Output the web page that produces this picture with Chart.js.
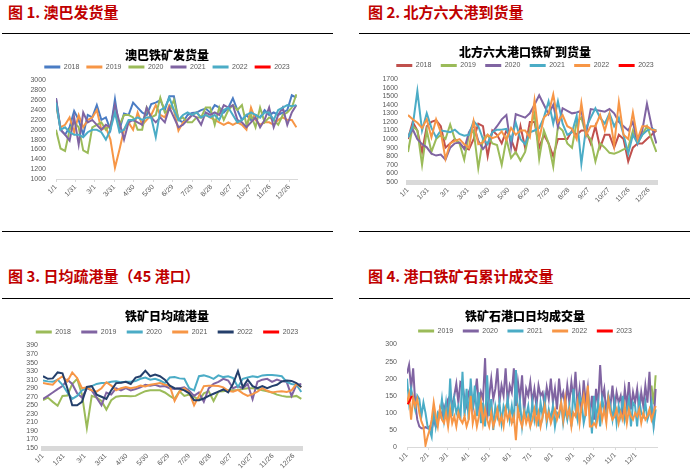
<!DOCTYPE html>
<html>
<head>
<meta charset="utf-8">
<script src="https://cdn.jsdelivr.net/npm/chart.js@4.4.1/dist/chart.umd.min.js"></script>
<style>
  html, body { margin: 0; padding: 0; background: #fff; }
  body { width: 691px; height: 472px; position: relative; overflow: hidden; font-family: "Noto Sans CJK SC", sans-serif; }
  .heading { position: absolute; font-size: 15px; font-weight: bold; color: #c00000; line-height: 18px; white-space: nowrap; }
  .rule { position: absolute; height: 0; border-top: 1px solid #000; }
  .box { position: absolute; }
</style>
</head>
<body>
<div class="heading" style="left:8px; top:3px">图 1. 澳巴发货量</div>
<div class="heading" style="left:368px; top:3px">图 2. 北方六大港到货量</div>
<div class="heading" style="left:8px; top:267px">图 3. 日均疏港量（45 港口）</div>
<div class="heading" style="left:368px; top:267px">图 4. 港口铁矿石累计成交量</div>

<div class="rule" style="left:2px; top:33px; width:331px"></div>
<div class="rule" style="left:359px; top:33px; width:331px"></div>
<div class="rule" style="left:2px; top:231px; width:331px"></div>
<div class="rule" style="left:359px; top:231px; width:331px"></div>
<div class="rule" style="left:2px; top:298px; width:331px"></div>
<div class="rule" style="left:359px; top:298px; width:331px"></div>

<div class="box" style="left:0; top:40px; width:334px; height:172px"><canvas id="ausChart"></canvas></div>
<div class="box" style="left:370px; top:40px; width:310px; height:172px"><canvas id="northChart"></canvas></div>
<div class="box" style="left:0; top:305px; width:334px; height:167px"><canvas id="dispatchChart"></canvas></div>
<div class="box" style="left:370px; top:305px; width:310px; height:167px"><canvas id="dealChart"></canvas></div>

<script>
// tick labels
const weekTickLabels = ['1/1', '1/31', '3/1', '3/31', '4/30', '5/30', '6/29', '7/29', '8/28', '9/27', '10/27', '11/26', '12/26'];
const monthTickLabels = ['1/1', '2/1', '3/1', '4/1', '5/1', '6/1', '7/1', '8/1', '9/1', '10/1', '11/1', '12/1'];
const monthStartDays = [0, 31, 59, 90, 120, 151, 181, 212, 243, 273, 304, 334];

// 澳巴铁矿发货量 (weekly)
const aus2018 = [2640,2000,1900,2050,2380,2200,1900,2300,2250,2500,2200,2250,2000,2620,2000,2330,2300,2550,2450,2350,2300,2520,2550,2600,2400,2680,2680,2200,2150,2300,2340,2350,2400,2430,2350,2500,2450,2350,2450,2640,2400,2200,2300,2200,2300,2250,2400,2300,2350,2300,2350,2400,2700,2650];
const aus2019 = [2500,2050,2100,2250,1950,2300,2050,2200,2250,2400,2000,2050,1800,1230,1600,2000,2150,2000,2350,2100,2200,2300,2500,2300,2250,2500,2400,1980,2150,2200,2300,2350,2250,2300,2250,2200,2150,2100,2150,2100,2150,2100,2000,2450,2200,2100,2150,2150,2100,2200,2250,2200,2200,2050];
const aus2020 = [2000,1620,1570,2000,2150,2050,1580,1530,2050,2100,2150,2000,2100,2350,2100,2300,2300,2250,2000,2000,2450,2250,2300,2650,2350,2400,2600,2200,2250,2150,2150,2250,2250,2450,2450,2100,2450,2200,2400,2500,2400,2500,2100,2300,2050,2450,2150,2250,2200,2100,2300,2350,2450,2720];
const aus2021 = [2640,2000,1900,1780,2250,1700,2350,2150,2200,2100,2000,2100,2050,2500,2150,1800,2150,2200,2150,2100,2450,2250,2150,2250,2150,2450,2250,2050,2100,2200,2300,2250,2100,2350,2300,2350,2300,2500,2450,2500,2200,2150,2050,2150,2250,2050,2200,2450,2050,2300,2450,2100,2350,2500];
const aus2022 = [2550,2000,2050,1950,1900,1900,1850,1950,2000,2000,1950,1800,2000,2350,1950,2000,2200,2200,2250,2200,2250,2250,1850,2400,2450,2650,2400,2200,2300,2350,2300,2350,2250,2300,2250,2300,2200,2400,2450,2300,2150,2200,2300,2350,2300,2250,2350,2350,2200,2400,2450,2500,2480,2500];

// 北方六大港口铁矿到货量 (weekly)
const north2018 = [1000,1200,1100,850,1150,1200,1220,1150,900,950,1000,950,900,880,1000,1180,1150,800,1100,1050,950,1100,1000,850,1150,900,1200,1200,900,1050,950,800,1000,1000,1000,1100,1050,1100,1100,950,1150,900,1050,1050,900,1050,1000,740,900,950,950,1000,1050,1100];
const north2019 = [850,1150,1100,700,1100,850,1000,1050,1000,1170,1000,950,760,1050,1100,660,1000,1050,950,930,700,1000,780,850,750,850,1100,1300,770,1100,950,680,1150,1100,950,900,1200,1250,1050,1000,740,950,900,840,830,850,880,900,1100,950,1050,1150,1000,850];
const north2020 = [1020,1115,1000,942,904,830,808,820,760,900,950,960,885,1077,1170,980,885,950,1077,1150,1230,1280,904,1290,1270,1250,1300,1400,1510,1400,1290,1400,1140,1360,1330,1300,1310,1330,1060,1350,1340,1330,1320,1350,1300,1200,1150,1100,1200,950,1100,1410,1150,950];
const north2021 = [1020,1150,1560,1100,1300,1130,1020,1100,1090,1080,1110,1060,1040,1050,1210,1150,1000,940,1080,1110,1110,1120,990,1190,1000,940,1080,1100,1130,1250,1440,1180,1440,1180,1050,1080,1270,712,1130,1250,1360,1250,1180,1300,1150,1250,1050,830,1050,950,1050,1100,1120,1100];
const north2022 = [1280,1230,1190,1130,1230,1020,1230,1080,770,950,980,1000,940,900,1210,940,960,1050,1010,1030,1090,990,1130,1050,1100,1100,1020,1450,1000,1250,1300,1520,1200,1280,1150,1120,1000,1420,1050,1150,1150,1280,1100,1290,930,1430,1050,1000,1310,1000,1150,1150,1110,1100];

// 铁矿日均疏港量 (weekly)
const disp2018 = [262,268,258,249,272,273,300,312,275,197,272,268,260,240,262,270,272,272,271,272,278,283,285,285,285,280,272,265,283,272,275,270,262,278,283,260,282,283,285,285,286,288,290,290,289,285,283,280,275,272,270,270,272,265];
const disp2019 = [265,272,280,288,295,310,300,278,268,290,285,268,250,280,275,290,285,290,285,288,292,298,296,298,294,295,290,288,290,292,284,272,280,258,290,300,305,312,308,290,295,290,300,264,305,310,312,305,310,306,305,272,298,300];
const disp2020 = [308,306,305,310,298,280,265,272,285,290,295,300,302,302,305,306,304,305,305,307,312,315,310,312,308,302,315,316,313,312,290,285,318,320,317,312,320,316,318,314,293,312,315,318,316,320,321,321,320,318,305,300,298,281];
const disp2021 = [302,300,298,310,318,306,327,314,290,292,285,282,290,304,296,285,290,293,290,292,296,294,298,300,302,298,296,260,282,290,280,250,272,295,296,296,295,292,284,282,286,278,272,276,282,290,284,280,282,283,281,285,300,292];
const disp2022 = [318,312,313,327,325,290,250,250,258,293,295,275,270,265,285,302,303,305,300,315,318,331,318,322,318,310,296,290,289,285,278,262,262,266,272,277,282,287,280,300,330,292,310,295,290,295,290,295,298,306,308,307,302,293];

// 铁矿石港口日均成交量 (every third day)
const deal2019 = [180, 125, 210];
const deal2019FirstDay = 357;
const deal2020 = [215,240,170,230,130,80,60,55,55,58,55,
  60,50,80,60,70,110,90,120,100,140,
  150,120,150,185,130,190,185,140,120,160,
  175,110,150,200,120,160,140,260,80,150,
  200,140,170,230,130,180,150,230,130,180,
  160,230,120,190,140,210,100,170,150,190,
  130,170,120,180,150,160,120,175,140,200,
  130,170,110,200,140,160,120,180,130,190,
  140,220,120,170,100,195,130,175,90,150,
  80,170,120,240,140,170,100,150,120,180,
  110,160,130,150,100,170,120,190,110,160,
  130,170,100,160,120,180,130,220,100,70,170];
const deal2021 = [200,130,170,140,110,150,140,90,130,100,60,
  50,30,110,60,100,90,140,80,130,70,
  200,90,140,100,120,80,220,90,170,80,
  200,110,180,90,160,70,130,60,210,90,
  140,50,120,90,130,70,120,100,140,80,
  120,70,225,90,130,60,110,90,120,70,
  130,80,120,60,130,90,140,70,110,80,
  120,60,100,90,130,70,110,80,120,60,
  170,110,80,150,130,70,100,160,120,40,
  150,80,130,60,140,110,90,150,120,80,
  130,70,120,90,150,80,110,140,60,130,
  120,60,140,100,90,130,80,100,130,60,110];
const deal2022 = [130,155,80,145,120,140,100,75,60,5,30,
  50,80,130,90,60,110,80,70,100,60,
  110,70,90,60,100,80,70,90,60,80,
  150,70,100,60,90,130,70,110,80,60,
  100,60,80,110,70,90,60,110,80,100,
  70,90,20,110,80,60,100,70,90,60,
  80,110,70,100,60,90,120,80,100,70,
  90,110,80,100,130,80,140,90,110,60,
  100,90,130,70,120,150,90,180,60,60,
  70,60,90,120,80,110,70,140,100,80,
  90,110,70,100,80,120,70,110,90,80,
  100,90,110,70,100,80,90,110,80,100,120];
const deal2023 = [125, 135, 150];
const deal2023FirstDay = 1;

const GRAY = '#595959';
const TICK_FONT = { family: 'Liberation Sans', size: 7 };
const COLORS = {
    blue: '#4a7cc4', orange: '#f79646', green: '#9bbb59', purple: '#8064a2',
    teal: '#4bacc6', red: '#ff0000', brick: '#c0504d', navy: '#243f6b'
};

// weekly series sit 7 days apart, the deal series 3 days apart
const weekly = vals => vals.map((v, i) => ({ x: i * 7, y: v }));
const everyThird = (vals, firstDay) => vals.map((v, i) => ({ x: firstDay + i * 3, y: v }));
const weekTickDays = weekTickLabels.map((_, i) => i * 30);

function legendLabels(chart) {
    return Chart.defaults.plugins.legend.labels.generateLabels(chart)
        .map(item => Object.assign(item, { lineWidth: 0 }));
}

function buildChart(id, opt) {
    const n = opt.series.length;
    return new Chart(document.getElementById(id), {
        type: 'line',
        data: {
            datasets: opt.series.map((s, i) => ({
                label: s.label,
                data: s.data,
                borderColor: s.color,
                backgroundColor: s.color,
                borderWidth: 2,
                pointRadius: 0,
                order: n - i
            }))
        },
        options: {
            responsive: true,
            maintainAspectRatio: false,
            animation: false,
            events: [],
            plugins: {
                title: {
                    display: true,
                    text: opt.title,
                    color: '#000',
                    font: { family: 'Noto Sans CJK SC', size: 12, weight: 900, lineHeight: 1.2 },
                    padding: { top: opt.titleTop, bottom: opt.titleBottom }
                },
                legend: {
                    position: 'top',
                    labels: {
                        boxWidth: 16,
                        boxHeight: 3,
                        padding: opt.legendGap,
                        color: GRAY,
                        font: TICK_FONT,
                        generateLabels: legendLabels,
                        sort: (a, b) => a.datasetIndex - b.datasetIndex
                    }
                },
                tooltip: { enabled: false }
            },
            scales: {
                x: {
                    type: 'linear',
                    min: 0,
                    max: opt.xMax,
                    afterBuildTicks: axis => { axis.ticks = opt.tickDays.map(v => ({ value: v })); },
                    afterFit: s => { s.height = opt.xHeight; },
                    ticks: {
                        autoSkip: false,
                        minRotation: 45,
                        maxRotation: 45,
                        padding: 1,
                        color: GRAY,
                        font: TICK_FONT,
                        callback: (v, i) => opt.tickLabels[i]
                    },
                    grid: { display: !opt.band, drawOnChartArea: false, tickLength: 3, color: '#d9d9d9' },
                    border: { display: true, color: '#d9d9d9', width: opt.band || 1 }
                },
                y: {
                    min: opt.yMin,
                    max: opt.yMax,
                    afterFit: s => { s.width = opt.yWidth; },
                    ticks: {
                        stepSize: opt.yStep,
                        autoSkip: false,
                        padding: opt.yPad,
                        color: GRAY,
                        font: TICK_FONT,
                        callback: v => String(v)
                    },
                    grid: { display: false, drawTicks: false },
                    border: { display: false }
                },
                right: {
                    position: 'right',
                    afterFit: s => { s.width = opt.rightWidth; },
                    ticks: { display: false },
                    grid: { display: false, drawTicks: false },
                    border: { display: false }
                }
            }
        }
    });
}

document.addEventListener('DOMContentLoaded', function() {
    Chart.defaults.font.family = 'Liberation Sans';

    buildChart('ausChart', {
        title: '澳巴铁矿发货量',
        titleTop: 7.8, titleBottom: -5.7, legendGap: 7,
        series: [
            { label: '2018', data: weekly(aus2018), color: COLORS.blue },
            { label: '2019', data: weekly(aus2019), color: COLORS.orange },
            { label: '2020', data: weekly(aus2020), color: COLORS.green },
            { label: '2021', data: weekly(aus2021), color: COLORS.purple },
            { label: '2022', data: weekly(aus2022), color: COLORS.teal },
            { label: '2023', data: [], color: COLORS.red }
        ],
        xMax: 372, tickDays: weekTickDays, tickLabels: weekTickLabels, xHeight: 33, band: 0,
        yMin: 1000, yMax: 3000, yStep: 200, yWidth: 56, yPad: 10, rightWidth: 37
    });

    buildChart('northChart', {
        title: '北方六大港口铁矿到货量',
        titleTop: 4.8, titleBottom: -6.6, legendGap: 9.4,
        series: [
            { label: '2018', data: weekly(north2018), color: COLORS.brick },
            { label: '2019', data: weekly(north2019), color: COLORS.green },
            { label: '2020', data: weekly(north2020), color: COLORS.purple },
            { label: '2021', data: weekly(north2021), color: COLORS.teal },
            { label: '2022', data: weekly(north2022), color: COLORS.orange },
            { label: '2023', data: [], color: COLORS.red }
        ],
        xMax: 372, tickDays: weekTickDays, tickLabels: weekTickLabels, xHeight: 30, band: 5,
        yMin: 500, yMax: 1700, yStep: 100, yWidth: 38, yPad: 10, rightWidth: 23
    });

    buildChart('dispatchChart', {
        title: '铁矿日均疏港量',
        titleTop: 3.8, titleBottom: -5.1, legendGap: 10.4,
        series: [
            { label: '2018', data: weekly(disp2018), color: COLORS.green },
            { label: '2019', data: weekly(disp2019), color: COLORS.purple },
            { label: '2020', data: weekly(disp2020), color: COLORS.teal },
            { label: '2021', data: weekly(disp2021), color: COLORS.orange },
            { label: '2022', data: weekly(disp2022), color: COLORS.navy },
            { label: '2023', data: [], color: COLORS.red }
        ],
        xMax: 372, tickDays: weekTickDays, tickLabels: weekTickLabels, xHeight: 24, band: 5,
        yMin: 150, yMax: 390, yStep: 20, yWidth: 43, yPad: 5, rightWidth: 32
    });

    buildChart('dealChart', {
        title: '铁矿石港口日均成交量',
        titleTop: 3.8, titleBottom: -5.3, legendGap: 9.6,
        series: [
            { label: '2019', data: everyThird(deal2019, deal2019FirstDay), color: COLORS.green },
            { label: '2020', data: everyThird(deal2020, 0), color: COLORS.purple },
            { label: '2021', data: everyThird(deal2021, 0), color: COLORS.teal },
            { label: '2022', data: everyThird(deal2022, 0), color: COLORS.orange },
            { label: '2023', data: everyThird(deal2023, deal2023FirstDay), color: COLORS.red }
        ],
        xMax: 365, tickDays: monthStartDays, tickLabels: monthTickLabels, xHeight: 25, band: 0,
        yMin: 0, yMax: 300, yStep: 50, yWidth: 37, yPad: 10, rightWidth: 23
    });
});
</script>
</body>
</html>
